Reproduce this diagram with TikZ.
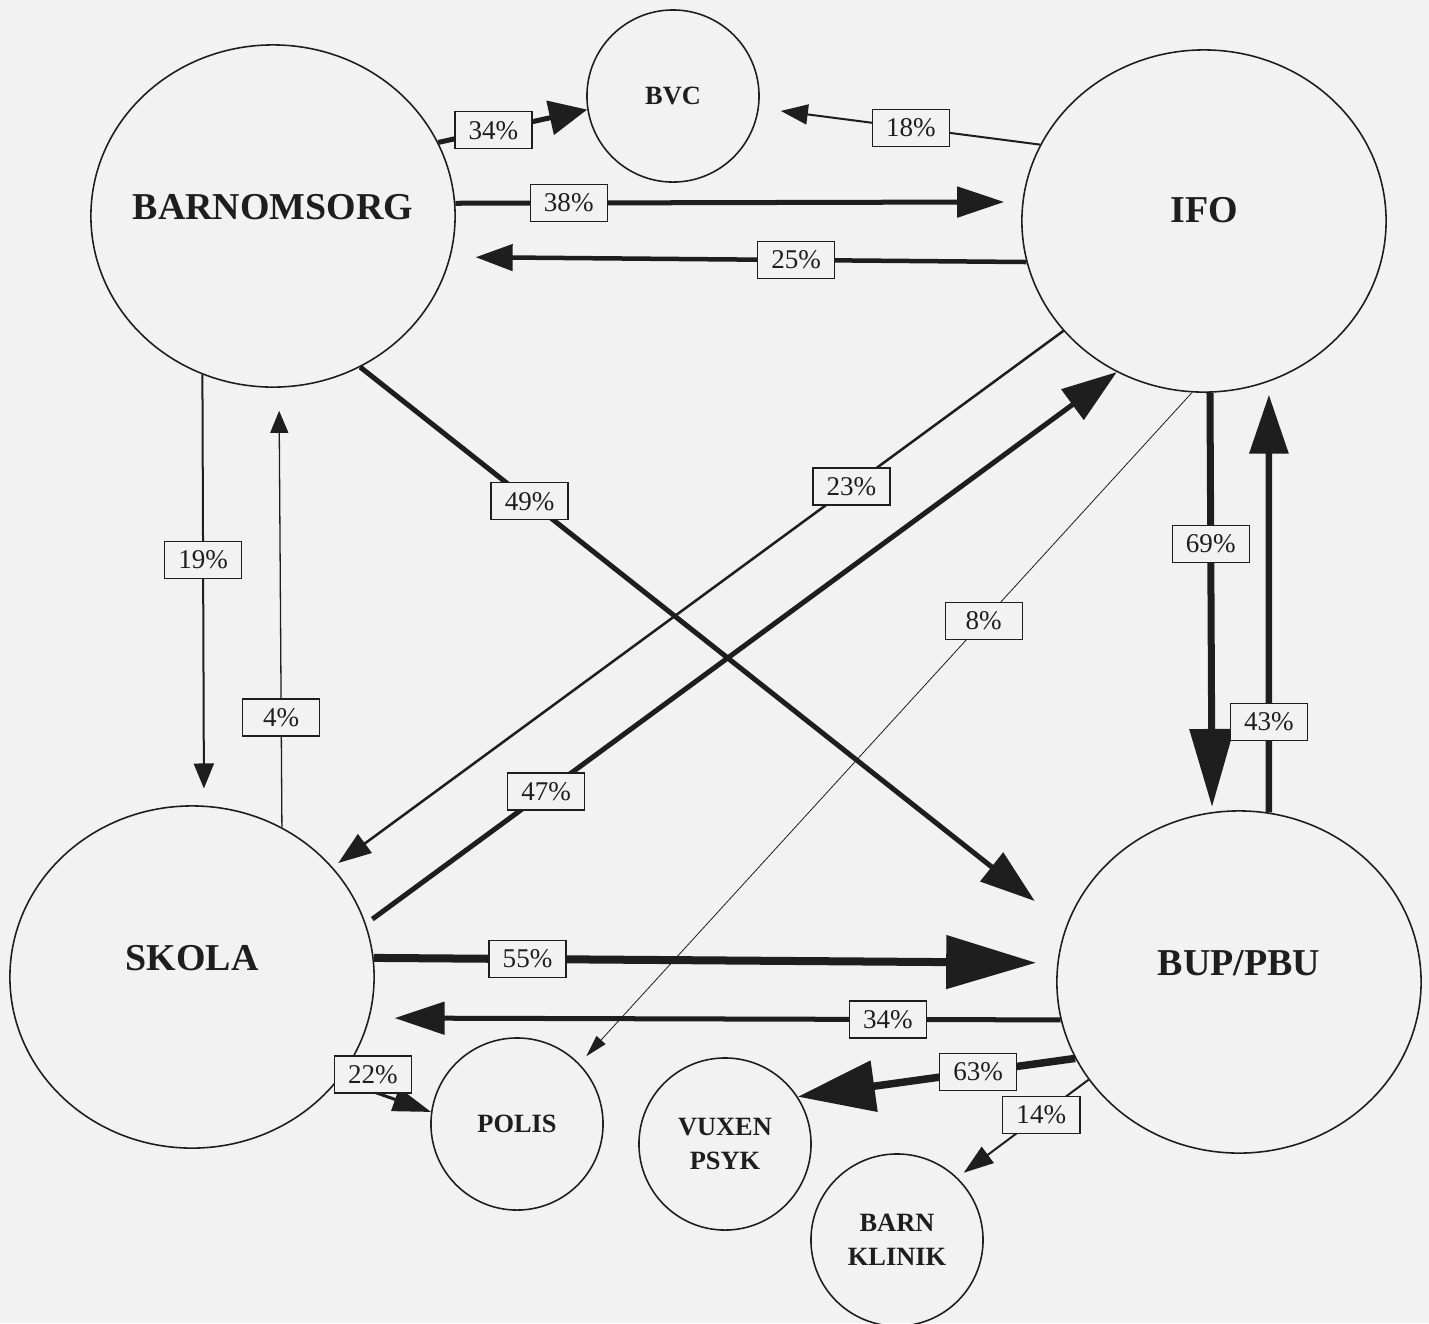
\documentclass[tikz,border=0pt]{standalone}
\usepackage{fontspec}
\setmainfont{Liberation Serif}
\usepackage{tikz}
\usetikzlibrary{arrows.meta,shapes.geometric}
\definecolor{ink}{RGB}{30,30,30}
\definecolor{paper}{RGB}{242,242,242}

\begin{document}
\begin{tikzpicture}[x=0.01cm,y=-0.01cm,
    agency/.style 2 args={ellipse,draw=ink,line width=0.45pt,minimum width=3.64cm,minimum height=3.42cm,inner sep=0pt,
      label={[font=\fontsize{10.8}{13}\selectfont\bfseries,text=ink,yshift=#2]center:#1}},
    unit/.style={circle,draw=ink,line width=0.45pt,minimum size=1.72cm,inner sep=0pt,align=center,
      font=\fontsize{7.5}{9.8}\selectfont\bfseries,text=ink},
    pct/.style={draw=ink,fill=paper,line width=0.4pt,minimum width=0.77cm,minimum height=0.37cm,inner sep=0pt,
      font=\fontsize{7.7}{9}\selectfont,text=ink},
    flow/.style n args={3}{draw=ink,line width=#1,-{Triangle[length=#2,width=#3]}}]
   \fill[paper] (0,0) rectangle (1429,1323);
   \useasboundingbox (0,0) rectangle (1429,1323);
   % the four big agencies
   \node[agency={BARNOMSORG}{0.09cm}] (barn)  at (273,216) {};
   \node[agency={IFO}{0.11cm}]        (ifo)   at (1204,221) {};
   \node[agency={SKOLA}{0.19cm}]      (skola) at (192,977) {};
   \node[agency={BUP/PBU}{0.19cm}]    (bup)   at (1239,982) {};
   % the small ones
   \node[unit] (bvc)    at (673,96)    {BVC};
   \node[unit] (polis)  at (517,1124)  {POLIS};
   \node[unit] (vuxen)  at (725,1144)  {VUXEN\\PSYK};
   \node[unit] (klinik) at (897,1240)  {BARN\\KLINIK};
   % referrals
   \draw[flow={0.05cm}{0.38cm}{0.34cm}] (barn.24) -- node[pct,pos=0.37] (p34a) {34\%} (bvc.189);
   \draw[flow={0.02cm}{0.27cm}{0.2cm},shorten >=0.22cm] (ifo.155.7) -- node[pct,pos=0.46] (p18) {18\%} (bvc.-8.5);
   \draw[flow={0.05cm}{0.47cm}{0.3cm},shorten >=0.18cm] (barn.4.1) -- node[pct,pos=0.2] (p38) {38\%} (ifo.174.6);
   \draw[flow={0.045cm}{0.37cm}{0.26cm},shorten >=0.25cm] (ifo.193.1) -- node[pct,pos=0.4] (p25) {25\%} (barn.-13.3);
   \draw[flow={0.02cm}{0.25cm}{0.2cm},shorten >=0.17cm] (barn.246.2) -- node[pct,pos=0.43] (p19) {19\%} (skola.86.3);
   \draw[flow={0.013cm}{0.22cm}{0.18cm},shorten >=0.23cm] (skola.59.9) -- node[pct,pos=0.25] (p4) {4\%} (barn.-88);
   \draw[flow={0.05cm}{0.55cm}{0.36cm},shorten >=0.4cm] (barn.-60.6) -- node[pct,pos=0.24] (p49) {49\%} (bup.162);
   \draw[flow={0.025cm}{0.33cm}{0.23cm},shorten >=0.07cm] (ifo.218.1) -- node[pct,pos=0.29] (p23) {23\%} (skola.38.6);
   \draw[flow={0.05cm}{0.55cm}{0.37cm},shorten <=0.08cm] (skola.17.4) -- node[pct,pos=0.24] (p47) {47\%} (ifo.240);
   \draw[flow={0.008cm}{0.22cm}{0.12cm},shorten >=0.1cm] (ifo.266.3) -- node[pct,pos=0.34] (p8) {8\%} (polis.44.6);
   \draw[flow={0.07cm}{0.78cm}{0.43cm},shorten >=0.05cm] (ifo.-88) -- node[pct,pos=0.36] (p69) {69\%} (bup.99.7);
   \draw[flow={0.065cm}{0.59cm}{0.38cm},shorten >=0.13cm] (bup.80.3) -- node[pct,pos=0.21] (p43) {43\%} (ifo.-68.1);
   \draw[flow={0.08cm}{0.9cm}{0.52cm},shorten >=0.21cm] (skola.6) -- node[pct,pos=0.225] (p55) {55\%} (bup.174);
   \draw[flow={0.05cm}{0.5cm}{0.32cm},shorten >=0.25cm] (bup.192.7) -- node[pct,pos=0.25] (p34b) {34\%} (skola.-13.4);
   \draw[flow={0.03cm}{0.38cm}{0.24cm}] (skola.-35) -- node[pct,pos=0.37,yshift=0.17cm] (p22) {22\%} (polis.172);
   \draw[flow={0.075cm}{0.77cm}{0.5cm}] (bup.205.8) -- node[pct,pos=0.35] (p63) {63\%} (vuxen.33.1);
   \draw[flow={0.02cm}{0.3cm}{0.2cm},shorten >=0.08cm] (bup.213.9) -- node[pct,pos=0.36] (p14) {14\%} (klinik.46.3);
\end{tikzpicture}
\end{document}
